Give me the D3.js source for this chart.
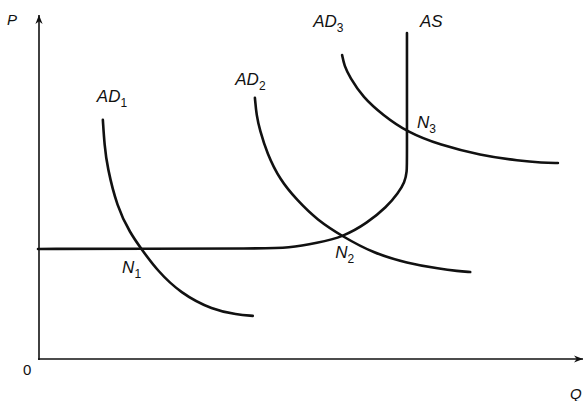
<!DOCTYPE html>
<html>
<head>
<meta charset="utf-8">
<script src="https://cdn.jsdelivr.net/npm/d3@7"></script>
<style>
  body { margin: 0; background: #fff; }
  svg { display: block; font-family: "Liberation Sans", Arial, sans-serif; }
</style>
</head>
<body>
<svg id="chart"></svg>
<script>
// Curve points in chart units (Q on x: 0..100, P on y: 0..100)
const ad1 = [[11.9, 69.3], [12.2, 62.0], [12.7, 55.7], [14.5, 44.1], [16.9, 36.5], [19.1, 31.6],
  [21.8, 25.8], [26.1, 19.1], [32.1, 14.2], [36.5, 12.9], [39.4, 12.5]];
const ad2 = [[39.8, 75.7], [40.1, 70.5], [40.7, 66.4], [42.0, 59.7], [44.4, 51.9], [47.5, 46.1],
  [51.2, 40.3], [56.0, 35.4], [61.5, 30.7], [67.7, 27.8], [73.8, 26.1], [77.0, 25.5], [79.3, 25.2]];
const ad3 = [[55.8, 88.1], [56.2, 85.0], [57.2, 81.7], [59.6, 75.9], [63.3, 70.7], [67.7, 65.8],
  [73.8, 62.0], [81.1, 59.1], [88.4, 57.4], [92.5, 56.9], [95.4, 56.8]];
const asCurve = [[0, 31.9], [20, 31.95], [40, 32.0], [46.2, 32.2], [51.2, 33.6], [56.0, 35.4],
  [60.4, 39.4], [64.0, 44.1], [66.1, 48.1], [67.3, 51.3], [67.7, 54.2], [67.7, 58],
  [67.7, 80], [67.7, 94.5]];
const equilibria = [
  { name: "N", sub: "1", q: 19.1, p: 31.6, dx: -20, dy: 23 },
  { name: "N", sub: "2", q: 56.0, p: 35.4, dx: -8, dy: 21 },
  { name: "N", sub: "3", q: 67.7, p: 65.8, dx: 10, dy: -4 }
];
const curveLabels = [
  { name: "AD", sub: "1", q: 10.8, p: 74.5 },
  { name: "AD", sub: "2", q: 36.2, p: 79.4 },
  { name: "AD", sub: "3", q: 50.5, p: 96.2 },
  { name: "AS", sub: "", q: 70.1, p: 96.2 }
];

const width = 585;
const height = 401;
const margin = { top: 14, right: 2, bottom: 42, left: 38 };

const svg = d3.select("#chart")
  .attr("width", width)
  .attr("height", height);

const x = d3.scaleLinear().domain([0, 100]).range([margin.left, width - margin.right]);
const y = d3.scaleLinear().domain([0, 100]).range([height - margin.bottom, margin.top]);

// Arrow marker for the axes
svg.append("defs").append("marker")
  .attr("id", "arrow")
  .attr("viewBox", "0 0 10 10")
  .attr("refX", 10).attr("refY", 5)
  .attr("markerWidth", 10).attr("markerHeight", 9)
  .attr("markerUnits", "userSpaceOnUse")
  .attr("orient", "auto")
  .append("path")
  .attr("d", "M0,1 L10,5 L0,9 L3,5 Z")
  .attr("fill", "#111");

// Axes
svg.append("line")
  .attr("x1", x(0) + 1).attr("y1", y(0) + 1)
  .attr("x2", x(0) + 1).attr("y2", y(100) + 1)
  .attr("stroke", "#111").attr("stroke-width", 1.6)
  .attr("marker-end", "url(#arrow)");

svg.append("line")
  .attr("x1", x(0)).attr("y1", y(0))
  .attr("x2", x(100)).attr("y2", y(0))
  .attr("stroke", "#111").attr("stroke-width", 1.6)
  .attr("marker-end", "url(#arrow)");

// Curves, smoothed with a B-spline through the read-off points
const smooth = d3.line()
  .x(d => x(d[0]))
  .y(d => y(d[1]))
  .curve(d3.curveBasis);

const g = svg.append("g")
  .attr("fill", "none")
  .attr("stroke", "#111")
  .attr("stroke-width", 2.6)
  .attr("stroke-linecap", "round");

[ad1, ad2, ad3, asCurve].forEach(c => g.append("path").attr("d", smooth(c)));

// Labels
function label(name, sub, px, py, size) {
  const t = svg.append("text")
    .attr("x", px).attr("y", py)
    .attr("font-size", size || 17)
    .attr("font-style", "italic")
    .attr("fill", "#111")
    .text(name);
  if (sub) {
    t.append("tspan")
      .attr("dy", 5)
      .attr("font-size", 12)
      .attr("font-style", "normal")
      .text(sub);
  }
}

curveLabels.forEach(d => label(d.name, d.sub, x(d.q), y(d.p)));
equilibria.forEach(d => label(d.name, d.sub, x(d.q) + d.dx, y(d.p) + d.dy));

label("P", "", 7, 25, 15);
label("Q", "", 570, 399, 15);
svg.append("text")
  .attr("x", 23).attr("y", 375)
  .attr("font-size", 15)
  .attr("fill", "#111")
  .text("0");
</script>
</body>
</html>
